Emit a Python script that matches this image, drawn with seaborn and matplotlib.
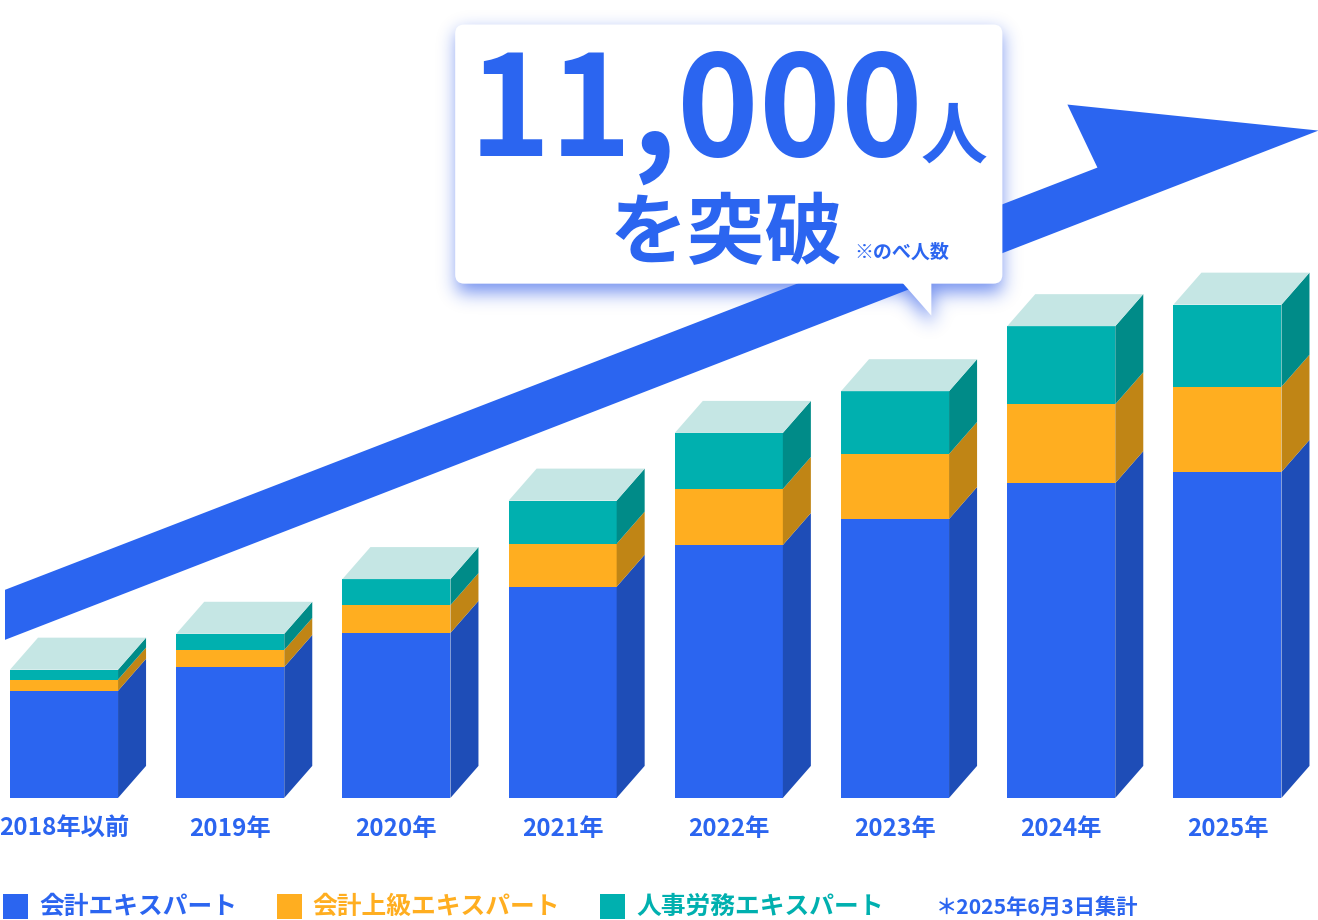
import numpy as np
import pandas as pd
import seaborn as sns
import matplotlib.pyplot as plt
from matplotlib.patches import FancyBboxPatch, Polygon, Rectangle

years = ['2018年以前', '2019年', '2020年', '2021年', '2022年', '2023年', '2024年', '2025年']
accounting = [2390, 2920, 3680, 4710, 5640, 6220, 7020, 7270]
advanced = [250, 380, 620, 960, 1250, 1450, 1760, 1900]
labor = [220, 360, 580, 960, 1250, 1400, 1740, 1830]

series_names = ['会計エキスパート', '会計上級エキスパート', '人事労務エキスパート']
front_colors = ['#2B65F0', '#FFAE20', '#00B0AF']
side_colors = ['#1E4DB7', '#C08515', '#008B88']
top_color = '#C5E6E4'
blue = '#2B65F0'

W, H = 1318, 920
BASE = 798
SPACING = 166.14
PER_PX = 11000 / 493

sns.set_theme(style='white')
plt.rcParams['font.family'] = ['Noto Sans CJK JP', 'DejaVu Sans']

df = pd.DataFrame({'year': years, 'a': accounting, 'b': advanced, 'c': labor})

fig = plt.figure(figsize=((W + 0.5) / 100, (H + 0.5) / 100), dpi=100)
ax = fig.add_axes([0, (H - BASE) / H, 1, BASE / H])

# stacked front faces
bottom = np.zeros(len(df))
bar_width = 108 / SPACING
dx = 28 / SPACING
dy = 32 * PER_PX
for col, front, side in zip(['a', 'b', 'c'], front_colors, side_colors):
    sns.barplot(data=df, x='year', y=col, color=front, saturation=1, width=bar_width,
                bottom=bottom, errorbar=None, linewidth=0, ax=ax, zorder=2)
    # right side of each block
    for i, v in enumerate(df[col]):
        xr = i + bar_width / 2
        b = bottom[i]
        ax.fill([xr, xr + dx, xr + dx, xr], [b, b + dy, b + v + dy, b + v],
                color=side, lw=0, zorder=2)
    bottom = bottom + df[col].values

# top faces
for i, t in enumerate(bottom):
    xl, xr = i - bar_width / 2, i + bar_width / 2
    ax.fill([xl, xr, xr + dx, xl + dx], [t, t, t + dy, t + dy], color=top_color, lw=0, zorder=2)

ax.set_xlim(-64 / SPACING, (W - 64) / SPACING)
ax.set_ylim(0, BASE * PER_PX)
ax.set_xlabel('')
ax.set_ylabel('')
ax.set_yticks([])
ax.tick_params(axis='x', length=0, pad=13.5, labelsize=17.5, labelcolor=blue)
for lab in ax.get_xticklabels():
    lab.set_fontweight('bold')
sns.despine(ax=ax, left=True, bottom=True)
ax.patch.set_alpha(0)

# overlay in picture pixels: arrow, callout, legend
ov = fig.add_axes([0, 0, 1, 1], zorder=5)
ov.set_axis_off()

ov.add_patch(Polygon([(5, 590), (1097, 168), (1067, 105), (1318, 131), (5, 640)],
                     closed=True, fc=blue, lw=0))

# blurred callout shadow
yy, xx = np.mgrid[0:H, 0:W]
mask = ((xx >= 457) & (xx <= 1000) & (yy >= 33) & (yy <= 292)).astype(float)
mask[(xx >= 902) & (xx <= 931) & (yy >= 284) & (yy - 292 <= (xx - 902) * 32 / 29)] = 1
kernel = np.exp(-0.5 * (np.arange(-30, 31) / 9) ** 2)
kernel /= kernel.sum()
mask = np.apply_along_axis(lambda r: np.convolve(r, kernel, mode='same'), 1, mask)
mask = np.apply_along_axis(lambda c: np.convolve(c, kernel, mode='same'), 0, mask)
shadow = np.zeros((H, W, 4))
shadow[..., :3] = (0.09, 0.28, 0.9)
shadow[..., 3] = mask * 0.6
ov.imshow(shadow, extent=(0, W, H, 0), interpolation='bilinear', aspect='auto')

ov.add_patch(FancyBboxPatch((463, 33), 531, 243, boxstyle='round,pad=8,rounding_size=9',
                            fc='white', lw=0))
ov.add_patch(Polygon([(902, 283), (931, 316), (931, 283)], closed=True, fc='white', lw=0))

ov.text(696, 156, '11,000', color=blue, fontsize=100, fontweight='bold', ha='center',
        va='baseline')
ov.text(953, 158, '人', color=blue, fontsize=48, fontweight='bold', ha='center', va='baseline')
ov.text(726, 258, 'を突破', color=blue, fontsize=56, fontweight='bold', ha='center', va='baseline')
ov.text(901, 258, '※のべ人数', color=blue, fontsize=13.7, fontweight='bold', ha='center',
        va='baseline')

# legend
swatch_x = [3, 277, 600]
text_x = [39, 312, 636]
text_colors = [blue, '#FFAE20', '#00B0AF']
for name, sx, tx, fc, tc in zip(series_names, swatch_x, text_x, front_colors, text_colors):
    ov.add_patch(Rectangle((sx, 894), 25, 25, fc=fc, lw=0))
    ov.text(tx, 906, name, color=tc, fontsize=17.8, fontweight='bold', ha='left', va='center')
ov.text(935, 907, '＊2025年6月3日集計', color=blue, fontsize=15.3, fontweight='bold',
        ha='left', va='center')

ov.set_xlim(0, W)
ov.set_ylim(H, 0)

fig.savefig('out.png', dpi=100)
